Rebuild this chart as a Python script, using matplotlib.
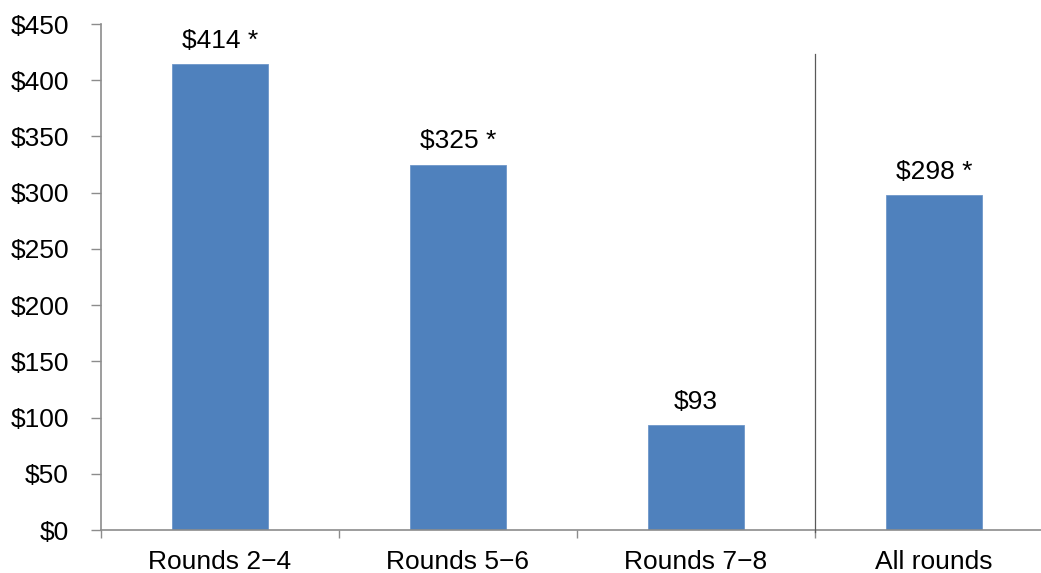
import matplotlib
matplotlib.use("Agg")
import matplotlib.pyplot as plt
import numpy as np

plt.rcParams["font.family"] = ["Liberation Sans", "DejaVu Sans"]

categories = ["Rounds 2\u22124", "Rounds 5\u22126", "Rounds 7\u22128", "All rounds"]
values = [414, 325, 93, 298]
labels = ["$414 *", "$325 *", "$93", "$298 *"]
yticks = [0, 50, 100, 150, 200, 250, 300, 350, 400, 450]

fig = plt.figure(figsize=(10.41, 5.73), dpi=100)
# axes runs past the right edge of the canvas, as in the source layout
ax = fig.add_axes([101 / 1041, 43 / 573, 952 / 1041, 506 / 573])

x = np.arange(len(categories))
ax.bar(x, values, width=0.4, color="#4F81BD", edgecolor="#6F97C9", linewidth=0.6, zorder=2)
for xi, v, lab in zip(x, values, labels):
    ax.annotate(lab, (xi, v), xytext=(0, 8), textcoords="offset points",
                ha="center", va="bottom", fontsize=19)

# separator between the per-round bars and the overall bar
ax.plot([2.5, 2.5], [-1.5, 423], color="#595959", lw=0.9, clip_on=False, zorder=3)

ax.set_xlim(-0.5, 3.5)
ax.set_ylim(0, 450)
ax.set_yticks(yticks)
ax.set_yticklabels([f"${t}" for t in yticks], fontsize=19)
ax.set_xticks(x)
ax.set_xticklabels(categories, fontsize=19)
ax.set_xticks(np.arange(-0.5, 3.5, 1), minor=True)
ax.tick_params(axis="x", which="major", length=0, pad=14.5)
ax.tick_params(axis="x", which="minor", length=6, color="#8C8C8C", width=1)
ax.tick_params(axis="y", length=7, color="#8C8C8C", width=1, pad=16)

for s in ["top", "right"]:
    ax.spines[s].set_visible(False)
for s in ["left", "bottom"]:
    ax.spines[s].set_color("#8C8C8C")
    ax.spines[s].set_linewidth(1.2)

fig.savefig("out.png", dpi=100)
